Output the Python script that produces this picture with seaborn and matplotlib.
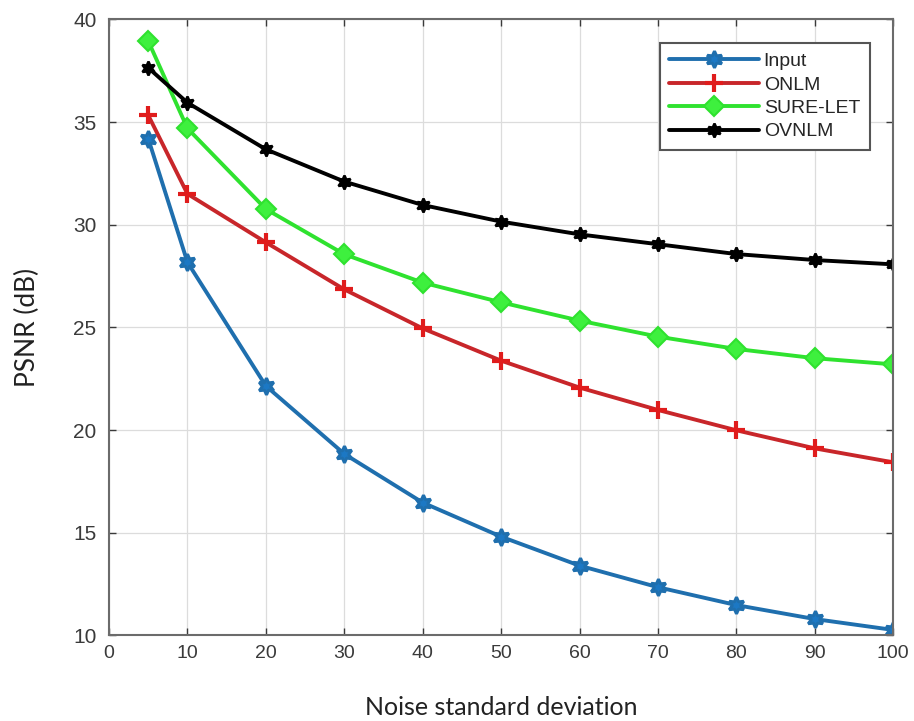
import numpy as np
import pandas as pd
import matplotlib
matplotlib.use('Agg')
import matplotlib.pyplot as plt
import seaborn as sns

# ── Data ──────────────────────────────────────────────────────────────────────
sigma = [5, 10, 20, 30, 40, 50, 60, 70, 80, 90, 100]

psnr_input   = [34.19, 28.17, 22.15, 18.84, 16.47, 14.81, 13.40, 12.35, 11.48, 10.80, 10.27]
psnr_onlm    = [35.33, 31.50, 29.14, 26.85, 24.95, 23.38, 22.07, 20.98, 19.99, 19.11, 18.43]
psnr_surelet = [38.94, 34.69, 30.76, 28.56, 27.18, 26.22, 25.33, 24.55, 23.95, 23.50, 23.20]
psnr_ovnlm   = [37.64, 35.94, 33.67, 32.10, 30.96, 30.15, 29.53, 29.05, 28.57, 28.28, 28.07]

methods = ['Input', 'ONLM', 'SURE-LET', 'OVNLM']
series  = [psnr_input, psnr_onlm, psnr_surelet, psnr_ovnlm]

x_ticks = list(range(0, 101, 10))
y_ticks = list(range(10, 41, 5))

# ── Styles ────────────────────────────────────────────────────────────────────
colors  = ['#1f6fae', '#c8262a', '#2fe22f', '#000000']
mfcs    = ['#1c78c4', '#e01c1c', '#3ef03e', '#000000']
markers = [(6, 1, 0), '+', 'D', (6, 1, 0)]
msizes  = [12, 13, 10, 10]
mews    = [2.2, 3.0, 1.5, 1.8]

sns.set_style('whitegrid')
plt.rcParams['font.family'] = ['Liberation Sans', 'DejaVu Sans']

fig = plt.figure(figsize=(9.14, 7.21), dpi=100)
ax = fig.add_axes([0.1193, 0.1186, 0.858, 0.8546])

for name, vals, c, mfc, m, ms, mew in zip(methods, series, colors, mfcs,
                                          markers, msizes, mews):
    df = pd.DataFrame({'sigma': sigma, 'psnr': vals})
    sns.lineplot(data=df, x='sigma', y='psnr', ax=ax, color=c, linewidth=2.8,
                 marker=m, markersize=ms, markerfacecolor=mfc,
                 markeredgecolor=mfc if m == '+' else c, markeredgewidth=mew,
                 label=name)

ax.set_xlim(0, 100)
ax.set_ylim(10, 40)
ax.set_xticks(x_ticks)
ax.set_yticks(y_ticks)
ax.tick_params(axis='x', labelsize=14, colors='#3a3a3a', direction='in',
               top=True, bottom=True, length=5, width=1, pad=7)
ax.tick_params(axis='y', labelsize=15, colors='#3a3a3a', direction='in',
               left=True, right=True, length=5, width=1, pad=9)

ax.grid(True, color='#dcdcdc', linewidth=0.9)
for s in ax.spines.values():
    s.set_visible(True)
    s.set_color('#6b6b6b')
    s.set_linewidth(1.5)

ax.set_xlabel('Noise standard deviation', fontsize=18, family='Lato',
              color='#222222', labelpad=24)
ax.set_ylabel('PSNR (dB)', fontsize=19, family='Lato', color='#222222',
              labelpad=24)

leg = ax.legend(loc='upper right', bbox_to_anchor=(0.97, 0.962), fontsize=14,
                frameon=True, fancybox=False, handlelength=4.6,
                borderpad=0.5, labelspacing=0.3, handletextpad=0.25,
                borderaxespad=0)
leg.get_frame().set_edgecolor('#555555')
leg.get_frame().set_linewidth(1.5)
leg.get_frame().set_alpha(1)

fig.savefig('out.png', dpi=100, facecolor='white')
